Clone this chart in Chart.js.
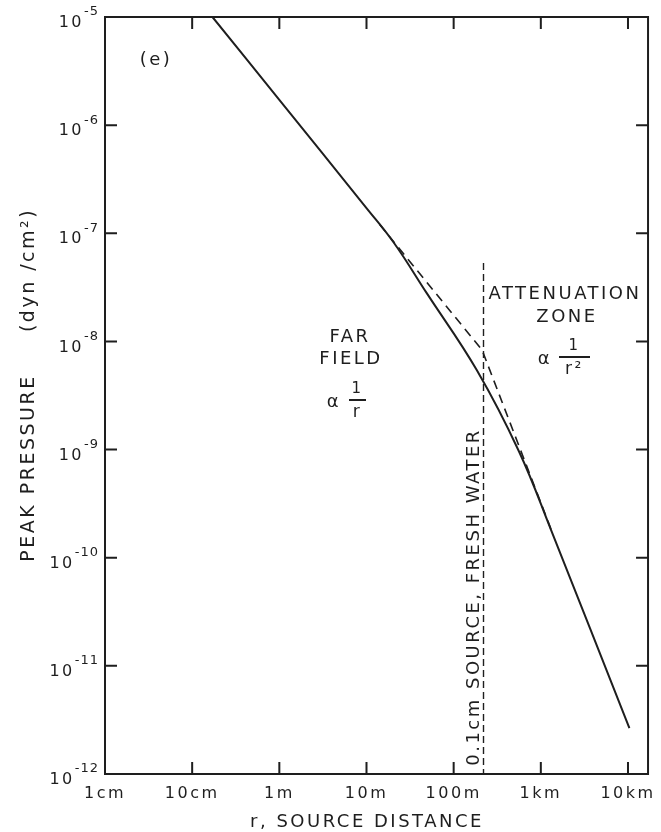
<!DOCTYPE html>
<html lang="en">
<head>
<meta charset="UTF-8">
<title>Peak pressure vs source distance</title>
<script src="https://cdn.jsdelivr.net/npm/chart.js"></script>
<style>
  html, body { margin: 0; padding: 0; background: #fff; }
  canvas { display: block; }
</style>
</head>
<body>
<canvas id="pressureChart" width="661" height="832"></canvas>
<script>
// distance r in metres, peak pressure in dyn/cm^2
const xTickValues = [0.01, 0.1, 1, 10, 100, 1000, 10000];
const xTickLabels = ['1cm', '10cm', '1m', '10m', '100m', '1km', '10km'];
const yTickValues = [1e-12, 1e-11, 1e-10, 1e-9, 1e-8, 1e-7, 1e-6, 1e-5];
const yTickExponents = ['-12', '-11', '-10', '-9', '-8', '-7', '-6', '-5'];

// solid curve
const solidR = [0.171, 1, 10, 20.7, 48.9, 184, 562, 1312, 10380];
const solidP = [1e-5, 1.71e-6, 1.71e-7, 8.13e-8, 2.81e-8, 5.44e-9, 9.6e-10, 1.8e-10, 2.66e-12];

// dashed asymptotes: 1/r then 1/r^2
const dashR = [14.1, 212, 1320];
const dashP = [1.21e-7, 8.32e-9, 1.8e-10];

// 0.1cm source, fresh water boundary
const boundaryR = [220, 220];
const boundaryP = [5.3e-8, 1e-12];

const ink = '#1e1e1e';
const FONT = '"DejaVu Sans", sans-serif';

function toPoints(xs, ys) {
    return xs.map((x, i) => ({ x: x, y: ys[i] }));
}

function label(c, text, x, y, size, rotate) {
    c.save();
    c.font = size + 'px ' + FONT;
    c.fillStyle = ink;
    c.textAlign = 'center';
    c.textBaseline = 'middle';
    c.translate(x, y);
    if (rotate) c.rotate(-Math.PI / 2);
    c.fillText(text, 0, 0);
    c.restore();
}

function fraction(c, alphaX, barX1, barX2, barY, bottom) {
    label(c, 'α', alphaX, barY + 2, 18);
    c.save();
    c.fillStyle = ink;
    c.fillRect(barX1, barY - 1, barX2 - barX1, 2);
    c.restore();
    const mid = (barX1 + barX2) / 2;
    label(c, '1', mid, barY - 11, 15);
    label(c, bottom, mid, barY + 13, 17);
}

const framePlugin = {
    id: 'framePlugin',
    beforeDraw(chart) {
        chart.ctx.letterSpacing = '2.5px';
    },
    afterDatasetsDraw(chart) {
        const c = chart.ctx;
        const a = chart.chartArea;
        const xs = chart.scales.x;
        const ys = chart.scales.y;
        c.save();
        c.strokeStyle = ink;
        c.lineWidth = 2;
        c.strokeRect(a.left, a.top, a.right - a.left, a.bottom - a.top);
        c.beginPath();
        xs.ticks.forEach(t => {
            const px = xs.getPixelForValue(t.value);
            if (px <= a.left + 1 || px >= a.right - 1) return;
            c.moveTo(px, a.bottom); c.lineTo(px, a.bottom - 12);
            c.moveTo(px, a.top); c.lineTo(px, a.top + 12);
        });
        ys.ticks.forEach(t => {
            const py = ys.getPixelForValue(t.value);
            if (py <= a.top + 1 || py >= a.bottom - 1) return;
            c.moveTo(a.left, py); c.lineTo(a.left + 12, py);
            c.moveTo(a.right, py); c.lineTo(a.right - 12, py);
        });
        c.stroke();

        // y tick labels as 10 with a raised exponent
        c.fillStyle = ink;
        c.textAlign = 'right';
        c.textBaseline = 'middle';
        const right = a.left - 6;
        ys.ticks.forEach(t => {
            const py = ys.getPixelForValue(t.value);
            const exp = yTickExponents[yTickValues.indexOf(t.value)];
            c.font = '13px ' + FONT;
            c.letterSpacing = '1px';
            const w = c.measureText(exp).width;
            c.fillText(exp, right, py - 5);
            c.font = '16px ' + FONT;
            c.letterSpacing = '2.5px';
            c.fillText('10', right - w, py + 6);
        });
        c.restore();
    },
    afterDraw(chart) {
        const c = chart.ctx;
        c.save();
        c.letterSpacing = '2.5px';
        label(c, '(e)', 156, 60, 18);
        label(c, 'FAR', 350, 337, 18);
        label(c, 'FIELD', 351, 359, 18);
        fraction(c, 334, 349, 366, 400, 'r');
        label(c, 'ATTENUATION', 565, 294, 18);
        label(c, 'ZONE', 567, 317, 18);
        fraction(c, 545, 559, 590, 357, 'r²');
        label(c, '0.1cm SOURCE, FRESH WATER', 474, 597, 18, true);
        label(c, 'PEAK PRESSURE', 29, 468, 19, true);
        label(c, '(dyn /cm²)', 29, 270, 19, true);
        label(c, 'r, SOURCE DISTANCE', 367, 822, 18);
        c.restore();
    }
};

new Chart(document.getElementById('pressureChart').getContext('2d'), {
    type: 'line',
    data: {
        datasets: [
            {
                label: 'peak pressure',
                data: toPoints(solidR, solidP),
                borderColor: ink,
                borderWidth: 2,
                pointRadius: 0,
                fill: false,
                tension: 0.4
            },
            {
                label: 'asymptotes',
                data: toPoints(dashR, dashP),
                borderColor: ink,
                borderWidth: 1.6,
                borderDash: [9, 6],
                pointRadius: 0,
                fill: false,
                tension: 0
            },
            {
                label: 'boundary',
                data: toPoints(boundaryR, boundaryP),
                borderColor: ink,
                borderWidth: 1.4,
                borderDash: [7, 4],
                pointRadius: 0,
                fill: false,
                tension: 0
            }
        ]
    },
    options: {
        responsive: false,
        animation: false,
        layout: { padding: { top: 17, right: 11, bottom: 0, left: 0 } },
        plugins: {
            legend: { display: false },
            tooltip: { enabled: false }
        },
        scales: {
            x: {
                type: 'logarithmic',
                min: 0.01,
                max: Math.pow(10, 4.23),
                afterBuildTicks: scale => { scale.ticks = xTickValues.map(v => ({ value: v })); },
                afterFit: scale => { scale.height = 58; },
                grid: { display: false, drawTicks: false },
                border: { display: false },
                ticks: {
                    autoSkip: false,
                    maxRotation: 0,
                    minRotation: 0,
                    padding: 10,
                    color: ink,
                    font: { family: FONT, size: 16 },
                    callback: value => xTickLabels[xTickValues.indexOf(value)]
                }
            },
            y: {
                type: 'logarithmic',
                min: 1e-12,
                max: 1e-5,
                afterBuildTicks: scale => { scale.ticks = yTickValues.map(v => ({ value: v })); },
                afterFit: scale => { scale.width = 105; },
                grid: { display: false, drawTicks: false },
                border: { display: false },
                ticks: { display: false }
            }
        }
    },
    plugins: [framePlugin]
});
</script>
</body>
</html>
